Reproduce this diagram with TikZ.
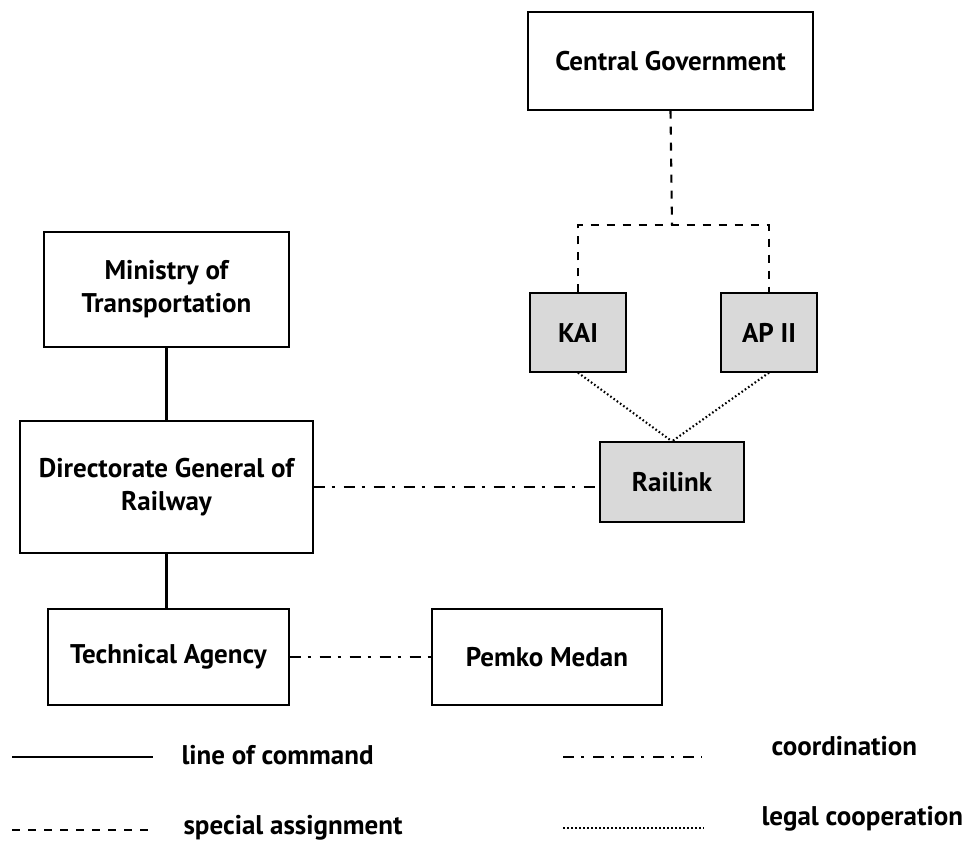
\documentclass[tikz,border=0pt]{standalone}
\usepackage{fontspec}
\setmainfont{PT Sans}
\usepackage{tikz}
\usetikzlibrary{calc}
\definecolor{boxgray}{HTML}{D9D9D9}
\tikzstyle{org} = [rectangle, draw=black, line width=1.3pt, text centered, align=center, font=\fontsize{27}{33}\selectfont\bfseries]
\tikzstyle{agency} = [org, fill=boxgray]
\tikzstyle{legendtext} = [anchor=west, font=\fontsize{27}{33}\selectfont\bfseries]
\tikzstyle{command} = [line width=2.1pt]
\tikzstyle{special} = [line width=2.1pt, dash pattern=on 8pt off 8pt]
\tikzstyle{coordline} = [line width=2.1pt, dash pattern=on 11pt off 7pt on 3pt off 9pt]
\tikzstyle{legal} = [line width=2.1pt, dash pattern=on 1.6pt off 2.4pt]

\begin{document}
\begin{tikzpicture}[x=1pt, y=-1pt]
\useasboundingbox (0,0) rectangle (964,841);
% organisations
\node (cg) [org, minimum width=285pt, minimum height=98pt] at (670.5,61) {Central Government};
\node (mot) [org, minimum width=245pt, minimum height=115pt] at (166.5,289.5) {Ministry of\\Transportation};
\node (kai) [agency, minimum width=96pt, minimum height=79pt] at (578,332.5) {KAI};
\node (ap) [agency, minimum width=96pt, minimum height=79pt] at (769,332.5) {AP II};
\node (rl) [agency, minimum width=144pt, minimum height=80pt] at (672,482) {Railink};
\node (dgr) [org, minimum width=293pt, minimum height=132pt] at (166.5,487) {Directorate General of\\Railway};
\node (ta) [org, minimum width=241pt, minimum height=96pt] at (168.5,657) {Technical Agency};
\node (pm) [org, minimum width=230pt, minimum height=96pt] at (547,657) {Pemko Medan};
\coordinate (split) at (672,225);

\draw[command] (mot.south) -- (dgr.north);
\draw[command] (dgr.south) -- (dgr.south |- ta.north);
\draw[special] (cg.south) -- (split);
\draw[special] (kai.north) |- (split) -| (ap.north);
\draw[legal] (kai.south) -- (rl.north);
\draw[legal] (ap.south) -- (rl.north);
\draw[coordline] (dgr.east) -- (dgr.east -| rl.west);
\draw[coordline] (ta.east) -- (pm.west);

% legend
\coordinate (l1a) at (12,757);  \coordinate (l1b) at (153,757);
\coordinate (l2a) at (12,830);  \coordinate (l2b) at (153,830);
\coordinate (l3a) at (563,757); \coordinate (l3b) at (702,757);
\coordinate (l4a) at (563,828); \coordinate (l4b) at (704,828);
\draw[command] (l1a) -- (l1b);
\draw[special] (l2a) -- (l2b);
\draw[coordline] (l3a) -- (l3b);
\draw[legal] (l4a) -- (l4b);
\node (t1) [legendtext] at (178,755) {line of command};
\node (t2) [legendtext] at (180,828) {special assignment};
\node (t3) [legendtext] at (768,746) {coordination};
\node (t4) [legendtext] at (758,819) {legal cooperation};
\end{tikzpicture}
\end{document}
